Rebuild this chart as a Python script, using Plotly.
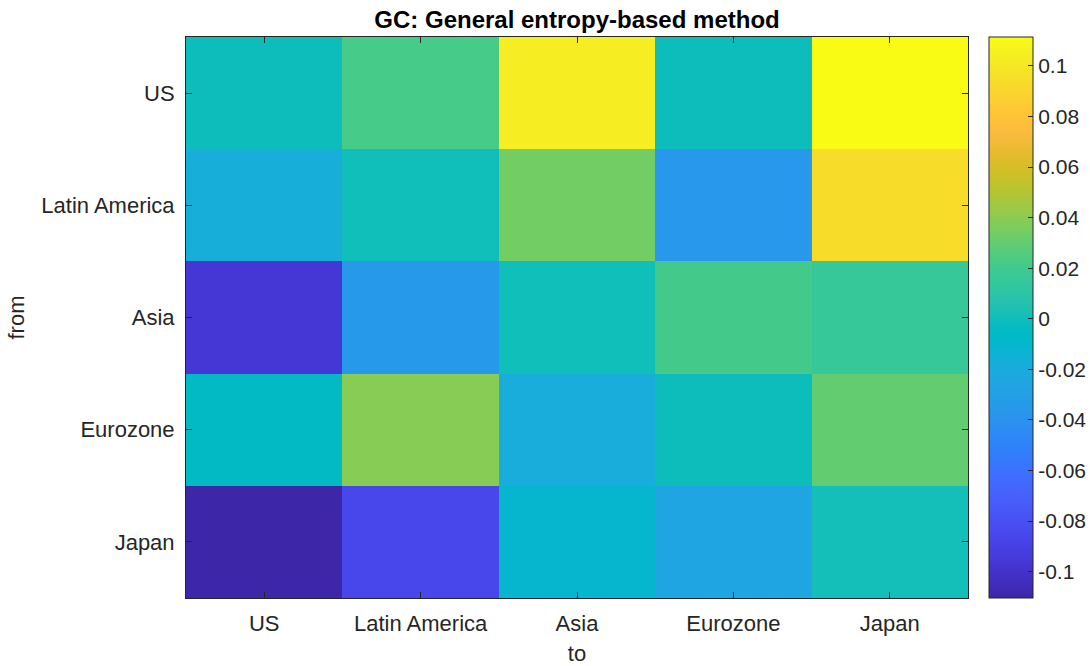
import plotly.graph_objects as go

# Regions (same order for source rows and destination columns)
regions = ["US", "Latin America", "Asia", "Eurozone", "Japan"]

# Spillover values, one list per "from" region, columns in "to" order
from_us = [-0.001, 0.022, 0.103, -0.001, 0.1114]
from_latin_america = [-0.018, 0.000, 0.034, -0.036, 0.094]
from_asia = [-0.096, -0.035, 0.000, 0.021, 0.016]
from_eurozone = [-0.005, 0.039, -0.019, -0.001, 0.030]
from_japan = [-0.1104, -0.086, -0.011, -0.026, 0.001]

z = [from_us, from_latin_america, from_asia, from_eurozone, from_japan]

# Colorbar ticks
cbar_ticks = [0.1, 0.08, 0.06, 0.04, 0.02, 0, -0.02, -0.04, -0.06, -0.08, -0.1]
cbar_labels = ["0.1", "0.08", "0.06", "0.04", "0.02", "0", "-0.02", "-0.04", "-0.06", "-0.08", "-0.1"]

# MATLAB parula(64) colormap
parula = [
    (0.2422, 0.1504, 0.6603), (0.2504, 0.1650, 0.7076), (0.2578, 0.1818, 0.7511),
    (0.2647, 0.1978, 0.7952), (0.2706, 0.2147, 0.8364), (0.2751, 0.2342, 0.8710),
    (0.2783, 0.2559, 0.8991), (0.2803, 0.2782, 0.9221), (0.2813, 0.3006, 0.9414),
    (0.2810, 0.3228, 0.9579), (0.2795, 0.3447, 0.9717), (0.2760, 0.3667, 0.9829),
    (0.2699, 0.3892, 0.9906), (0.2602, 0.4123, 0.9952), (0.2440, 0.4358, 0.9988),
    (0.2206, 0.4603, 0.9973), (0.1963, 0.4847, 0.9892), (0.1834, 0.5074, 0.9798),
    (0.1786, 0.5289, 0.9682), (0.1764, 0.5499, 0.9520), (0.1687, 0.5703, 0.9359),
    (0.1540, 0.5902, 0.9218), (0.1460, 0.6091, 0.9079), (0.1380, 0.6276, 0.8973),
    (0.1248, 0.6459, 0.8883), (0.1113, 0.6635, 0.8763), (0.0952, 0.6798, 0.8598),
    (0.0689, 0.6948, 0.8394), (0.0297, 0.7082, 0.8163), (0.0036, 0.7203, 0.7917),
    (0.0067, 0.7312, 0.7660), (0.0433, 0.7411, 0.7394), (0.0964, 0.7500, 0.7120),
    (0.1408, 0.7584, 0.6842), (0.1717, 0.7670, 0.6554), (0.1938, 0.7758, 0.6251),
    (0.2161, 0.7843, 0.5923), (0.2470, 0.7918, 0.5567), (0.2906, 0.7973, 0.5188),
    (0.3406, 0.8008, 0.4789), (0.3909, 0.8029, 0.4354), (0.4456, 0.8024, 0.3909),
    (0.5044, 0.7993, 0.3480), (0.5616, 0.7942, 0.3045), (0.6174, 0.7876, 0.2612),
    (0.6720, 0.7793, 0.2227), (0.7242, 0.7698, 0.1910), (0.7738, 0.7598, 0.1646),
    (0.8203, 0.7498, 0.1535), (0.8634, 0.7406, 0.1596), (0.9035, 0.7330, 0.1774),
    (0.9393, 0.7288, 0.2100), (0.9728, 0.7298, 0.2394), (0.9956, 0.7434, 0.2371),
    (0.9970, 0.7659, 0.2199), (0.9952, 0.7893, 0.2028), (0.9892, 0.8136, 0.1885),
    (0.9786, 0.8386, 0.1766), (0.9676, 0.8639, 0.1643), (0.9610, 0.8890, 0.1537),
    (0.9597, 0.9135, 0.1423), (0.9628, 0.9373, 0.1265), (0.9691, 0.9606, 0.1064),
    (0.9769, 0.9839, 0.0805),
]
n = len(parula)
colorscale = [
    [i / (n - 1), "rgb({},{},{})".format(round(r * 255), round(g * 255), round(b * 255))]
    for i, (r, g, b) in enumerate(parula)
]

all_vals = [v for row in z for v in row]
zmin, zmax = min(all_vals), max(all_vals)

axis_color = "#262626"
font_family = "Liberation Sans, Arial, Helvetica, sans-serif"

# Plot area in pixels
left, right, top, bottom = 186, 968, 37, 598
fig_w, fig_h = 1090, 666

fig = go.Figure(
    go.Heatmap(
        z=z,
        x=regions,
        y=regions,
        colorscale=colorscale,
        zmin=zmin,
        zmax=zmax,
        xgap=0,
        ygap=0,
        colorbar=dict(
            x=(989 - left) / (right - left),
            xanchor="left",
            xpad=0,
            ypad=0,
            y=0.5,
            yanchor="middle",
            len=1,
            lenmode="fraction",
            thickness=44,
            thicknessmode="pixels",
            outlinewidth=1,
            outlinecolor=axis_color,
            ticks="inside",
            ticklen=5,
            tickcolor=axis_color,
            tickvals=cbar_ticks,
            ticktext=cbar_labels,
            tickfont=dict(family=font_family, size=21, color=axis_color),
        ),
    )
)

fig.update_layout(
    width=fig_w,
    height=fig_h,
    margin=dict(l=left, r=fig_w - right, t=top, b=fig_h - bottom, autoexpand=False),
    paper_bgcolor="white",
    plot_bgcolor="white",
    font=dict(family=font_family, color=axis_color),
    title=dict(
        text="<b>GC: General entropy-based method</b>",
        x=0.5,
        xref="paper",
        xanchor="center",
        y=1 - 20 / fig_h,
        yref="container",
        yanchor="middle",
        font=dict(family=font_family, size=24, color="black"),
    ),
    xaxis=dict(
        title=dict(text="to", font=dict(size=22, color=axis_color), standoff=12),
        showline=True,
        linecolor=axis_color,
        linewidth=1,
        mirror="allticks",
        ticks="inside",
        ticklen=6,
        tickcolor=axis_color,
        tickfont=dict(size=22, color=axis_color),
        ticklabelstandoff=6,
        showgrid=False,
        zeroline=False,
    ),
    yaxis=dict(
        title=dict(text="from", font=dict(size=22, color=axis_color), standoff=10),
        autorange="reversed",
        showline=True,
        linecolor=axis_color,
        linewidth=1,
        mirror="allticks",
        ticks="inside",
        ticklen=6,
        tickcolor=axis_color,
        tickfont=dict(size=22, color=axis_color),
        ticklabelstandoff=6,
        showgrid=False,
        zeroline=False,
    ),
)

fig.write_html("out.html")
